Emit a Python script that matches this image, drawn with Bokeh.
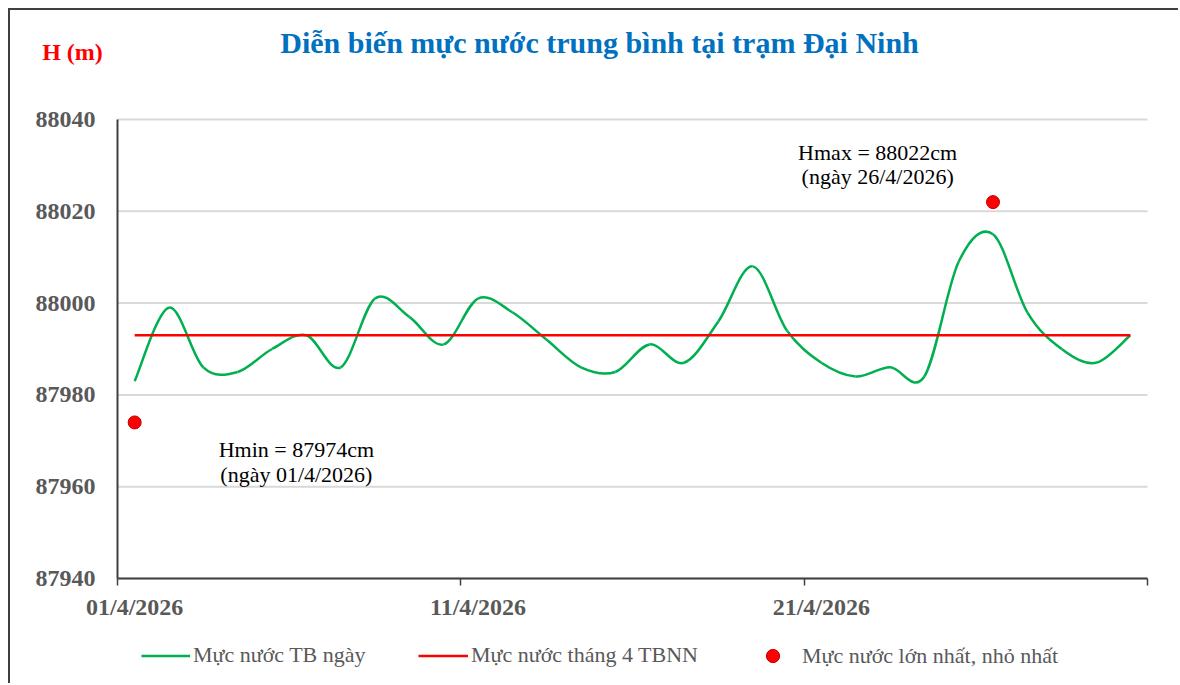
from bokeh.plotting import figure
from bokeh.models import (Range1d, LinearAxis, FixedTicker, Label, Legend, LegendItem,
                          ColumnDataSource)
from bokeh.embed import file_html
from bokeh.resources import INLINE

# ---------------- data ----------------
days = list(range(1, 31))
date_labels = [f"{d:02d}/4/2026" for d in days]
water_level = [87983, 87999, 87986, 87985, 87990, 87993, 87986, 88001, 87997, 87991,
               88001, 87998, 87992, 87986, 87985, 87991, 87987, 87996, 88008, 87994,
               87987, 87984, 87986, 87984, 88009, 88015, 87998, 87990, 87987, 87993]
avg_april = 87993
extreme_days = [26, 1]
extreme_values = [88022, 87974]
y_ticks = [87940, 87960, 87980, 88000, 88020, 88040]
label_days = [1, 11, 21]
boundary_ticks = [0.5, 10.5, 20.5, 30.5]

FONT = "Liberation Serif"
GREY = "#595959"
DARK = "#404040"

# ---------------- layout (canvas pixels) ----------------
W, H = 1170, 675
PX_LEFT, PX_RIGHT = 107, 1137       # plot area left/right in canvas px
PX_TOP, PX_BOTTOM = 109, 568        # plot area top/bottom in canvas px
X_LO, X_HI = 0.5, 30.5
Y_LO, Y_HI = y_ticks[0], y_ticks[-1]
sx = (PX_RIGHT - PX_LEFT) / (X_HI - X_LO)
sy = (PX_BOTTOM - PX_TOP) / (Y_HI - Y_LO)
xr = Range1d(X_LO - PX_LEFT / sx, X_HI + (W - PX_RIGHT) / sx)
yr = Range1d(Y_LO - (H - PX_BOTTOM) / sy, Y_HI + PX_TOP / sy)

p = figure(width=W, height=H, output_backend="svg", toolbar_location=None,
           x_range=xr, y_range=yr, x_axis_type=None, y_axis_type=None,
           min_border=0, min_border_left=0, min_border_right=0,
           min_border_top=0, min_border_bottom=0,
           styles={"margin-left": "8px", "margin-top": "8px",
                   "border-top": "2px solid #404040", "border-left": "2px solid #404040"})
p.outline_line_color = None
p.background_fill_color = "white"
p.border_fill_color = "white"
p.xgrid.visible = False
p.ygrid.visible = False

# horizontal gridlines
p.segment(x0=[X_LO] * len(y_ticks), x1=[X_HI] * len(y_ticks), y0=y_ticks, y1=y_ticks,
          line_color="#d9d9d9", line_width=2)

# y axis
yax = LinearAxis(ticker=FixedTicker(ticks=y_ticks), fixed_location=X_LO, bounds=(Y_LO, Y_HI))
yax.axis_line_color = DARK
yax.axis_line_width = 2
yax.major_tick_out = 0
yax.major_tick_in = 0
yax.minor_tick_line_color = None
yax.major_label_text_font = FONT
yax.major_label_text_font_style = "bold"
yax.major_label_text_font_size = "24px"
yax.major_label_text_color = GREY
yax.major_label_standoff = 22
p.add_layout(yax, "left")

# x axis (line + boundary ticks)
xax = LinearAxis(ticker=FixedTicker(ticks=boundary_ticks), fixed_location=Y_LO, bounds=(X_LO, X_HI))
xax.axis_line_color = DARK
xax.axis_line_width = 2
xax.major_tick_line_color = DARK
xax.major_tick_line_width = 1.5
xax.major_tick_out = 7
xax.major_tick_in = 0
xax.minor_tick_line_color = None
xax.major_label_overrides = {t: "" for t in boundary_ticks}
xax.major_label_text_font_size = "0px"
p.add_layout(xax, "below")

# x axis date labels at category centres
xlab = LinearAxis(ticker=FixedTicker(ticks=label_days), fixed_location=Y_LO)
xlab.axis_line_color = None
xlab.major_tick_line_color = None
xlab.minor_tick_line_color = None
xlab.major_label_overrides = {d: date_labels[d - 1] for d in label_days}
xlab.major_label_text_font = FONT
xlab.major_label_text_font_style = "bold"
xlab.major_label_text_font_size = "24px"
xlab.major_label_text_color = GREY
xlab.major_label_standoff = 9
p.add_layout(xlab, "below")

# smoothed green line via cubic bezier segments (Catmull-Rom style control points)
n = len(days)
x0, y0, x1, y1, cx0, cy0, cx1, cy1 = [], [], [], [], [], [], [], []
for i in range(n - 1):
    ip = max(i - 1, 0)
    inn = min(i + 2, n - 1)
    x0.append(days[i]); y0.append(water_level[i])
    x1.append(days[i + 1]); y1.append(water_level[i + 1])
    cx0.append(days[i] + (days[i + 1] - days[ip]) / 6)
    cy0.append(water_level[i] + (water_level[i + 1] - water_level[ip]) / 6)
    cx1.append(days[i + 1] - (days[inn] - days[i]) / 6)
    cy1.append(water_level[i + 1] - (water_level[inn] - water_level[i]) / 6)
bsrc = ColumnDataSource(dict(x0=x0, y0=y0, x1=x1, y1=y1, cx0=cx0, cy0=cy0, cx1=cx1, cy1=cy1))
GREEN = "#00B050"
p.bezier(x0="x0", y0="y0", x1="x1", y1="y1", cx0="cx0", cy0="cy0", cx1="cx1", cy1="cy1",
         source=bsrc, line_color=GREEN, line_width=2.5)

# red average line
r_avg = p.line(x=[days[0], days[-1]], y=[avg_april, avg_april], line_color="#FF0000", line_width=2.5)

# extremes
r_ext = p.scatter(x=extreme_days, y=extreme_values, size=13, fill_color="#FF0000",
                  line_color="#C00000", line_width=1)

# legend proxy for the green line (single point: draws nothing in the plot)
r_green = p.line(x=days[:1], y=water_level[:1], line_color=GREEN, line_width=2.5)

def mk_legend(label, renderer, vx, vy, gw, gh, standoff):
    lg = Legend(items=[LegendItem(label=label, renderers=[renderer])], location=(vx, vy),
                orientation="horizontal", padding=0, margin=0, border_line_color=None,
                background_fill_alpha=0, glyph_width=gw, glyph_height=gh, label_height=gh,
                label_standoff=standoff, label_text_font=FONT, label_text_font_size="22px",
                label_text_color=GREY)
    p.add_layout(lg, "center")

mk_legend("Mực nước TB ngày", r_green, 131, 17, 49, 25, 3)
mk_legend("Mực nước tháng 4 TBNN", r_avg, 408, 17, 50, 25, 3)
mk_legend("Mực nước lớn nhất, nhỏ nhất", r_ext, 746, 13, 33, 33, 13)

# title and unit label
p.add_layout(Label(x=14.54, y=88056.8, text="Diễn biến mực nước trung bình tại trạm Đại Ninh",
                   text_font=FONT, text_font_style="bold", text_font_size="30px",
                   text_color="#0070C0", text_align="center", text_baseline="middle"))
p.add_layout(Label(x=-0.81, y=88054.8, text="H (m)", text_font=FONT, text_font_style="bold",
                   text_font_size="24px", text_color="#FF0000", text_align="center",
                   text_baseline="middle"))

# annotations
ann = [(22.64, 88032.9, f"Hmax = {extreme_values[0]}cm"),
       (22.64, 88027.5, f"(ngày {date_labels[extreme_days[0] - 1]})"),
       (5.71, 87968.1, f"Hmin = {extreme_values[1]}cm"),
       (5.71, 87962.6, f"(ngày {date_labels[extreme_days[1] - 1]})")]
for ax_, ay_, t in ann:
    p.add_layout(Label(x=ax_, y=ay_, text=t, text_font=FONT, text_font_size="22px",
                       text_color="#000000", text_align="center", text_baseline="middle"))

open("out.html", "w").write(file_html(p, INLINE))
